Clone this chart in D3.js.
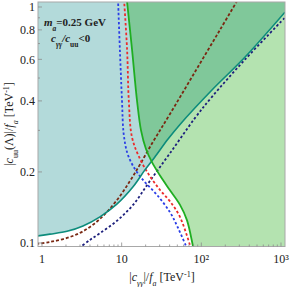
<!DOCTYPE html>
<html>
<head>
<meta charset="utf-8">
<script src="https://cdn.jsdelivr.net/npm/d3@7"></script>
<style>
  body { margin: 0; background: #fff; }
  text { font-family: "Liberation Serif", "Times New Roman", serif; }
</style>
</head>
<body>
<div id="chart"></div>
<script>
// --------------- Data ---------------
const xMajorTicks = [1, 10, 100, 1000];
const xTickLabels = ["1", "10", "10²", "10³"];
const yMajorTicks = [0.1, 0.2, 0.4, 0.6, 0.8, 1];
const yTickLabels = ["0.1", "0.2", "0.4", "0.6", "0.8", "1"];
const yMinorTicks = [0.3, 0.5, 0.7, 0.9];

// solid boundaries
const tealBound = [
  [0.87, 0.107], [1.26, 0.109], [2.06, 0.112], [3.27, 0.118], [5.34, 0.129],
  [8.7, 0.146], [13.9, 0.173], [19.6, 0.204], [26, 0.231], [38, 0.275],
  [54, 0.318], [136, 0.445], [352, 0.612], [1120, 0.95],
];
const greenBound = [
  [11.6, 1.08], [11.7, 1.05], [13.5, 0.66], [15.6, 0.40], [17.5, 0.30],
  [20.2, 0.25], [24, 0.22], [30, 0.194], [40, 0.168], [54, 0.145],
  [66, 0.125], [78, 0.098], [80, 0.094],
];

// dashed curves
const blueCurve = [
  [9.0, 1.08], [9.5, 0.66], [10.1, 0.40], [10.6, 0.29], [11.8, 0.24],
  [13.9, 0.212], [18.5, 0.185], [27.7, 0.160], [40.4, 0.135], [50.9, 0.116],
  [65.9, 0.095],
];
const redCurve = [
  [10.7, 1.08], [11.7, 0.66], [12.3, 0.40], [13.5, 0.28], [17.0, 0.227],
  [22.6, 0.192], [30.2, 0.168], [40.4, 0.150], [53.9, 0.129], [74, 0.095],
];
const brownCurve = [
  [0.85, 0.099], [1.26, 0.101], [2.06, 0.105], [3.27, 0.112], [5.34, 0.1264],
  [8.73, 0.152], [13.9, 0.192], [24.7, 0.268], [40.4, 0.352], [83, 0.530],
  [171, 0.799], [290, 1.08],
];
const navyCurve = [
  [2.9, 0.095], [4.0, 0.103], [5.34, 0.110], [8.7, 0.124], [13.9, 0.145],
  [22.6, 0.183], [40.4, 0.240], [83, 0.338], [136, 0.416], [352, 0.598],
  [1150, 0.91],
];

// --------------- Constants ---------------
const WIDTH = 291;
const HEIGHT = 287;
const PLOT = { left: 38, right: 285, top: 2, bottom: 246.5 };

const TEAL_FILL = "#b3dada";
const GREEN_FILL = "#b4e3b0";
const OVERLAP_FILL = "#80c89a";

const x = d3.scaleLog().domain([0.891, 1123]).range([PLOT.left, PLOT.right]);
const y = d3.scaleLog().domain([0.0966, 1.05]).range([PLOT.bottom, PLOT.top]);

const line = d3
  .line()
  .x((d) => x(d[0]))
  .y((d) => y(d[1]))
  .curve(d3.curveCatmullRom.alpha(0.5));

// curve plus straight segments to the corners, closed
function closedRegion(points, corners) {
  return (
    line(points) +
    corners.map((c) => `L${x(c[0])},${y(c[1])}`).join("") +
    "Z"
  );
}

const [xMin, xMax] = x.domain();
const [yMin, yMax] = y.domain();

// --------------- Prep SVG ---------------
const svg = d3
  .select("#chart")
  .append("svg")
  .attr("width", WIDTH)
  .attr("height", HEIGHT);

const defs = svg.append("defs");
defs
  .append("clipPath")
  .attr("id", "plot-clip")
  .append("rect")
  .attr("x", PLOT.left)
  .attr("y", PLOT.top)
  .attr("width", PLOT.right - PLOT.left)
  .attr("height", PLOT.bottom - PLOT.top);

const tealPath = closedRegion(tealBound, [
  [xMax * 1.2, yMax * 1.2],
  [xMin / 1.2, yMax * 1.2],
]);
const greenPath = closedRegion(greenBound, [
  [xMax * 1.2, yMin / 1.2],
  [xMax * 1.2, yMax * 1.2],
]);

defs.append("clipPath").attr("id", "teal-clip").append("path").attr("d", tealPath);

const g = svg.append("g").attr("clip-path", "url(#plot-clip)");

// --------------- Regions ---------------
g.append("path").attr("d", tealPath).attr("fill", TEAL_FILL);
g.append("path").attr("d", greenPath).attr("fill", GREEN_FILL);
g.append("g")
  .attr("clip-path", "url(#teal-clip)")
  .append("path")
  .attr("d", greenPath)
  .attr("fill", OVERLAP_FILL);

// --------------- Curves ---------------
const dashed = [
  { data: brownCurve, color: "#7a2812", dash: "3,2" },
  { data: navyCurve, color: "#1c1f7c", dash: "2.4,2.2" },
  { data: blueCurve, color: "#2a3de6", dash: "2.4,2.2" },
  { data: redCurve, color: "#ec2b2b", dash: "2.6,2.2" },
];

g.selectAll("path.dashed")
  .data(dashed)
  .enter()
  .append("path")
  .attr("class", "dashed")
  .attr("d", (d) => line(d.data))
  .attr("fill", "none")
  .attr("stroke", (d) => d.color)
  .attr("stroke-width", 1.8)
  .attr("stroke-dasharray", (d) => d.dash);

g.append("path")
  .attr("d", line(tealBound))
  .attr("fill", "none")
  .attr("stroke", "#0d8c7c")
  .attr("stroke-width", 1.6);

g.append("path")
  .attr("d", line(greenBound))
  .attr("fill", "none")
  .attr("stroke", "#1fae22")
  .attr("stroke-width", 1.8);

// --------------- Frame & ticks ---------------
svg
  .append("rect")
  .attr("x", PLOT.left)
  .attr("y", PLOT.top)
  .attr("width", PLOT.right - PLOT.left)
  .attr("height", PLOT.bottom - PLOT.top)
  .attr("fill", "none")
  .attr("stroke", "#a8a8a8")
  .attr("stroke-width", 1);

const xMinorTicks = [];
[1, 10, 100].forEach((dec) => {
  for (let k = 2; k <= 9; k++) xMinorTicks.push(dec * k);
});

const ticks = svg.append("g").attr("stroke", "#8c8c8c").attr("stroke-width", 0.8);

ticks
  .selectAll("line.xmaj")
  .data(xMajorTicks)
  .enter()
  .append("line")
  .attr("x1", (d) => x(d))
  .attr("x2", (d) => x(d))
  .attr("y1", PLOT.bottom)
  .attr("y2", PLOT.bottom - 4);

ticks
  .selectAll("line.xmin")
  .data(xMinorTicks)
  .enter()
  .append("line")
  .attr("x1", (d) => x(d))
  .attr("x2", (d) => x(d))
  .attr("y1", PLOT.bottom)
  .attr("y2", PLOT.bottom - 2);

ticks
  .selectAll("line.ymaj")
  .data(yMajorTicks)
  .enter()
  .append("line")
  .attr("x1", PLOT.left)
  .attr("x2", PLOT.left + 4)
  .attr("y1", (d) => y(d))
  .attr("y2", (d) => y(d));

ticks
  .selectAll("line.ymin")
  .data(yMinorTicks)
  .enter()
  .append("line")
  .attr("x1", PLOT.left)
  .attr("x2", PLOT.left + 2)
  .attr("y1", (d) => y(d))
  .attr("y2", (d) => y(d));

// tick labels
svg
  .append("g")
  .selectAll("text")
  .data(xMajorTicks)
  .enter()
  .append("text")
  .attr("x", (d) => x(d))
  .attr("y", PLOT.bottom + 16)
  .attr("text-anchor", "middle")
  .attr("font-size", 12)
  .attr("fill", "#222")
  .text((d, i) => xTickLabels[i]);

svg
  .append("g")
  .selectAll("text")
  .data(yMajorTicks)
  .enter()
  .append("text")
  .attr("x", PLOT.left - 3)
  .attr("y", (d) => y(d))
  .attr("dy", "0.35em")
  .attr("text-anchor", "end")
  .attr("font-size", 12)
  .attr("fill", "#222")
  .text((d, i) => yTickLabels[i]);

// --------------- Axis titles ---------------
const xTitle = svg
  .append("text")
  .attr("x", 162)
  .attr("y", 281)
  .attr("text-anchor", "middle")
  .attr("font-size", 12)
  .attr("fill", "#222");
xTitle.append("tspan").text("|");
xTitle.append("tspan").attr("font-style", "italic").text("c");
xTitle.append("tspan").attr("font-size", 8).attr("baseline-shift", "sub").attr("font-style", "italic").text("γγ");
xTitle.append("tspan").text("|/");
xTitle.append("tspan").attr("font-style", "italic").text("f");
xTitle.append("tspan").attr("font-size", 8).attr("baseline-shift", "sub").attr("font-style", "italic").text("a");
xTitle.append("tspan").text(" [TeV");
xTitle.append("tspan").attr("font-size", 8).attr("baseline-shift", "super").text("-1");
xTitle.append("tspan").text("]");

const yTitle = svg
  .append("text")
  .attr("transform", "translate(13,124) rotate(-90)")
  .attr("text-anchor", "middle")
  .attr("font-size", 12)
  .attr("fill", "#222");
yTitle.append("tspan").text("|");
yTitle.append("tspan").attr("font-style", "italic").text("c");
yTitle.append("tspan").attr("font-size", 8).attr("baseline-shift", "sub").text("uu");
yTitle.append("tspan").text("(Λ)|/");
yTitle.append("tspan").attr("font-style", "italic").text("f");
yTitle.append("tspan").attr("font-size", 8).attr("baseline-shift", "sub").attr("font-style", "italic").text("a");
yTitle.append("tspan").text(" [TeV");
yTitle.append("tspan").attr("font-size", 8).attr("baseline-shift", "super").text("-1");
yTitle.append("tspan").text("]");

// --------------- Annotation ---------------
const note1 = svg
  .append("text")
  .attr("x", 44)
  .attr("y", 26)
  .attr("font-size", 11)
  .attr("font-weight", "bold")
  .attr("fill", "#222");
note1.append("tspan").attr("font-style", "italic").text("m");
note1.append("tspan").attr("font-size", 7.5).attr("baseline-shift", "sub").attr("font-style", "italic").text("a");
note1.append("tspan").text("=0.25 GeV");

const note2 = svg
  .append("text")
  .attr("x", 51)
  .attr("y", 42)
  .attr("font-size", 11)
  .attr("font-weight", "bold")
  .attr("fill", "#222");
note2.append("tspan").attr("font-style", "italic").text("c");
note2.append("tspan").attr("font-size", 7.5).attr("baseline-shift", "sub").attr("font-style", "italic").text("γγ");
note2.append("tspan").attr("font-style", "italic").text("/c");
note2.append("tspan").attr("font-size", 7.5).attr("baseline-shift", "sub").text("uu");
note2.append("tspan").text("<0");
</script>
</body>
</html>
